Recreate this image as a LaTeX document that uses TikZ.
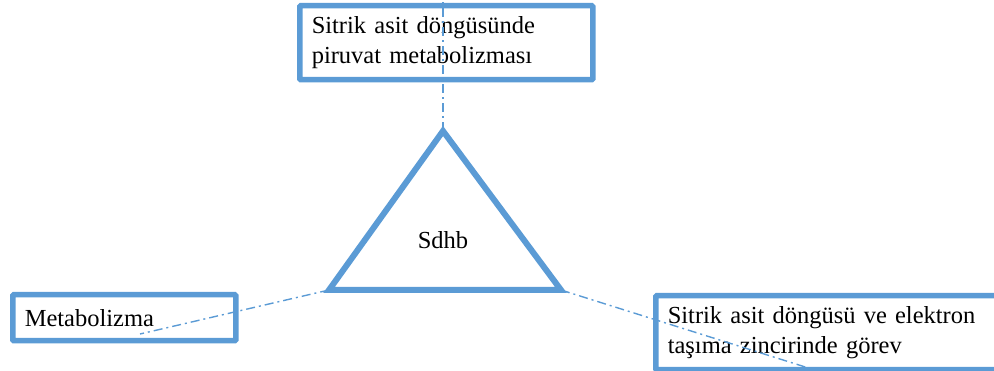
\documentclass[tikz,border=0pt]{standalone}
\usepackage{fontspec}
\setmainfont{Liberation Serif}
\definecolor{boxblue}{HTML}{5B9BD5}
\begin{document}
\begin{tikzpicture}[x=1pt,y=-1pt,
  box/.style={draw=boxblue, line width=5.5pt, rounded corners=1pt, anchor=north west, inner xsep=12pt, inner ysep=0pt, align=left, font=\fontsize{24.5}{30}\selectfont, text=black},
  link/.style={draw=boxblue, line width=1.4pt, dash pattern=on 9pt off 4pt on 2pt off 4pt},
  tri/.style={draw=boxblue, line width=6pt, line join=miter}]
\useasboundingbox (0,0) rectangle (994,371);
% boxes
\node[box, minimum width=293pt, minimum height=74pt, text width=269pt] (top) at (297,3) {Sitrik asit döngüsünde\\piruvat metabolizması};
\node[box, minimum width=223pt, minimum height=46pt, text width=199pt] (left) at (10,292) {Metabolizma};
\node[box, minimum width=360pt, minimum height=74pt, text width=336pt] (right) at (653,293) {Sitrik asit döngüsü ve elektron\\taşıma zincirinde görev};
% triangle
\coordinate (A) at (443,131);
\coordinate (B) at (329,290);
\coordinate (C) at (561,290);
\draw[tri] (A) -- (B) -- (C) -- cycle;
\node[font=\fontsize{24.5}{30}\selectfont] (sdhb) at (443,240) {Sdhb};
% connectors
\coordinate (topend) at (443,0);
\coordinate (leftend) at (140,334);
\coordinate (rightend) at (818,371);
\draw[link] (A) -- (topend);
\draw[link] (B) -- (leftend);
\draw[link] (C) -- (rightend);
\end{tikzpicture}
\end{document}
